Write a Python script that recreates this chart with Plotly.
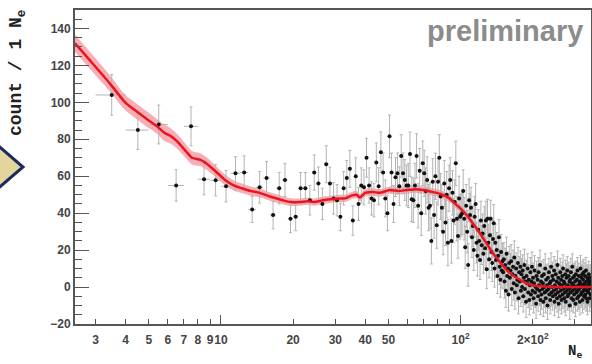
import numpy as np
import plotly.graph_objects as go

# ---------------- data ----------------
# low-N integer bins: centre, value, error
X_LOW = [3.5, 4.5, 5.5, 6.5, 7.5, 8.5, 9.5, 10.5, 11.5, 12.5, 13.5, 14.5, 15.5, 16.5, 17.5,
         18.5, 19.5, 20.5, 21.5, 22.5, 23.5, 24.5, 25.5, 26.5, 27.5, 28.5, 29.5, 30.5, 31.5,
         32.5, 33.5, 34.5, 35.5, 36.5, 37.5, 38.5, 39.5, 40.5, 41.5, 42.5, 43.5, 44.5, 45.5,
         46.5, 47.5, 48.5, 49.5, 50.5, 51.5, 52.5, 53.5, 54.5, 55.5, 56.5, 57.5, 58.5, 59.5]
Y_LOW = [104, 85, 88, 55, 87, 58.4, 57.8, 54.6, 61.6, 62, 42, 54, 59, 39, 53.5,
         58, 37, 38, 53.5, 53.5, 47, 62, 56, 45, 66.5, 56, 48, 47, 38,
         53.5, 59, 64, 36, 60, 45, 55, 54, 70, 55, 48, 47, 67.5, 54.6,
         73, 62, 48, 40, 81.6, 62, 45, 59.5, 61.6, 54.6, 71, 61.6, 58, 55]
E_LOW = [11, 10.5, 10.5, 8.5, 10.5, 8.5, 8.5, 8.5, 9, 9, 7, 8.5, 9, 7.5, 8.5,
         9, 7.5, 7.5, 8.5, 8.5, 8, 9.5, 9, 8.5, 10, 9, 8.5, 8.5, 7.5,
         9, 9.5, 10, 8, 10, 9, 9.5, 9.5, 10.5, 9.5, 9, 9, 10.5, 10,
         11, 10.5, 10, 9.5, 11.5, 10.5, 10, 10.5, 11, 10.5, 11.5, 11, 11, 11]

# dense region A: bins 60.5 ... 149.5
A_FIRST_BIN = 60.5
Y_A = [55, 72, 47.5, 47, 55, 71, 44, 63, 40, 67,
       61.6, 52, 58, 43, 44, 25, 57, 39, 60, 33.5,
       57, 70, 49, 43, 30, 56, 35, 50, 24, 53.5,
       58, 25, 51, 36, 46, 67, 37, 27.6, 48, 38,
       39, 40, 52, 37, 21.6, 44, 30, 12, 47, 39,
       43, 27, 33, 20, 38, 45, 24, 17, 31, 25,
       14.6, 36, 22.7, 29, 18, 33, 21, 36, 9.7, 37,
       24, 15, 28, 37, 19, 13, 26, 34.6, 10, 24,
       14.6, 20, 6, 17, 27, 11, 4, 19, 9, 14]
E_A_PER10 = [12, 12.5, 12.5, 12, 11.5, 11, 10.5, 10, 9.5]

# dense region B: bins 150.5 ... 349.5
B_FIRST_BIN = 150.5
Y_B = [8, 15, 3, 12, -2, 18, 6, 10, -4, 13,
       5, 9, 14, -1, 7, 11, 2, 16, -3, 6,
       10, 1, 4, 13, -6, 8, 3, 11, -2, 7,
       0, 9, -5, 5, 12, -1, 3, -8, 6, 2,
       10, -3, 4, -7, 1, 8, -4, 3, 11, -2,
       5, -6, 2, 9, -3, 0, -9, 6, -1, 4,
       -5, 8, 1, -2, 12, -7, 3, -4, 6, -1,
       2, -8, 7, 0, -3, 10, -6, 4, -2, 1,
       -10, 5, -1, 8, -4, 2, -7, 3, 11, -3,
       0, 6, -5, 4, -2, 9, -8, 1, -4, 7,
       -1, 3, -6, 12, -3, 5, -9, 2, 0, -5,
       8, -2, 4, -7, 1, 6, -4, 10, -1, 3,
       -6, 2, -3, 7, -8, 0, 5, -2, 9, -5,
       1, -4, 6, -1, 3, -10, 4, -3, 8, 0,
       -6, 2, 11, -2, 5, -7, 1, -4, 6, -1,
       3, -9, 7, 0, -3, 4, -6, 9, -2, 1,
       -5, 6, -1, 3, -8, 2, 10, -4, 0, 5,
       -3, 7, -7, 1, 4, -2, 8, -5, 2, -1,
       6, -4, 0, 9, -6, 3, -2, 5, -8, 1,
       4, -3, 7, -1, 2, -6, 0, 5, -4, 3]
E_B_PER10 = [9, 9, 8.5, 8.5, 8, 8, 8, 8, 7.5, 7.5,
             7.5, 7.5, 7.5, 7.5, 7, 7, 7, 7, 7, 7]

# fitted curve with its uncertainty band
CURVE_X = [2.46, 2.84, 3.45, 3.98, 4.3, 4.9, 5.41, 5.8, 6.13, 6.55, 7.2, 7.57, 8.17, 8.57,
           9.44, 10.4, 11.3, 12.2, 13.3, 14.5, 16, 18.1, 19.5, 21.3, 23, 24.5, 26.6, 28.5,
           31.3, 33, 35, 36.8, 38, 40, 43, 46, 50.6, 55, 59.5, 65, 70, 76.3, 82, 89.8, 95,
           100, 105.9, 111, 117.7, 123.5, 130, 137, 145, 155, 163, 171, 185, 200, 230, 277, 350]
CURVE_Y = [132, 122.7, 110, 100, 96.5, 91, 87, 83.5, 82, 79, 73, 70, 69, 67.5,
           63, 58, 55, 53.5, 52, 51, 49, 47, 46, 46, 46.5, 46, 47, 47.5,
           48, 48, 49.5, 50, 48.5, 51, 51.5, 51, 52.5, 52, 52.5, 53, 52.5, 51.5, 50.5, 48, 45,
           42.5, 39, 35.5, 31, 27, 22.5, 18, 14, 9.5, 7, 5, 2.5, 0.8, 0.2, 0, 0]
CURVE_ERR = [4.8, 4.7, 4.4, 4.2, 4.2, 4.2, 4, 4.4, 4.2, 4, 3.8, 3.6, 3.5, 3.4,
             3.1, 2.9, 2.7, 2.6, 2.5, 2.4, 2.3, 2.2, 2.1, 2, 2, 2, 2, 2,
             2, 2, 2, 2, 2, 2, 2, 2, 2, 2, 2, 2, 2, 2, 2, 2, 2,
             2, 2, 2, 2, 2, 1.8, 1.8, 1.7, 1.6, 1.5, 1.5, 1.5, 1.5, 1.5, 1.5, 1.5]

X_TICKS = [3, 4, 5, 6, 7, 8, 9, 10, 20, 30, 40, 50, 100, 200]
X_TICK_TEXT = ["3", "4", "5", "6", "7", "8", "9", "10", "20", "30", "40", "50",
               "10<sup>2</sup>", "2×10<sup>2</sup>"]
X_MINOR_TICKS = [60, 70, 80, 90, 300]

# ---------------- assemble ----------------
x_a = [A_FIRST_BIN + i for i in range(len(Y_A))]
e_a = [E_A_PER10[i // 10] for i in range(len(Y_A))]
x_b = [B_FIRST_BIN + i for i in range(len(Y_B))]
e_b = [E_B_PER10[i // 10] for i in range(len(Y_B))]

xs = X_LOW + x_a + x_b
ys = Y_LOW + Y_A + Y_B
es = E_LOW + e_a + e_b

W, H = 592, 364
ML, MR, MT, MB = 75, 1, 10, 40
PW, PH = W - ML - MR, H - MT - MB


def px(xp):
    return (xp - ML) / PW


def py(yp):
    return (H - MB - yp) / PH


fig = go.Figure()

up = [y + e for y, e in zip(CURVE_Y, CURVE_ERR)]
lo = [y - e for y, e in zip(CURVE_Y, CURVE_ERR)]
fig.add_trace(go.Scatter(x=CURVE_X, y=up, mode="lines", line=dict(width=0, color="rgba(0,0,0,0)"),
                         line_shape="spline", hoverinfo="skip", showlegend=False))
fig.add_trace(go.Scatter(x=CURVE_X, y=lo, mode="lines", line=dict(width=0, color="rgba(0,0,0,0)"),
                         line_shape="spline", fill="tonexty", fillcolor="rgba(240,110,120,0.55)",
                         hoverinfo="skip", showlegend=False))

fig.add_trace(go.Scatter(
    x=xs, y=ys, mode="markers",
    marker=dict(color="#111111", size=4),
    error_y=dict(type="data", array=es, color="#b4b4b4", thickness=1, width=1.5),
    error_x=dict(type="data", array=[0.5] * len(xs), color="#b4b4b4", thickness=1, width=0),
    showlegend=False))

fig.add_trace(go.Scatter(x=CURVE_X, y=CURVE_Y, mode="lines",
                         line=dict(color="#ea1520", width=2.5, shape="spline", smoothing=0.6),
                         showlegend=False))

# helper trace for the long decade ticks
fig.add_trace(go.Scatter(x=[10, 100], y=[None, None], xaxis="x2", mode="markers",
                         showlegend=False, hoverinfo="skip"))

tickfont = dict(family="Liberation Sans, Arial, sans-serif", size=12, color="#444444", weight="bold")
xr = [np.log10(2.46), np.log10(350)]

fig.update_layout(
    width=W, height=H,
    margin=dict(l=ML, r=MR, t=MT, b=MB, autoexpand=False),
    paper_bgcolor="white", plot_bgcolor="white",
    xaxis=dict(type="log", range=xr, tickmode="array", tickvals=X_TICKS, ticktext=X_TICK_TEXT,
               tickangle=0, automargin=False, ticklabelstandoff=4,
               ticks="inside", ticklen=5, tickwidth=1, tickcolor="#555555",
               minor=dict(tickmode="array", tickvals=X_MINOR_TICKS, ticks="inside", ticklen=5,
                          tickwidth=1, tickcolor="#555555"),
               showline=True, mirror=True, linecolor="#555555", linewidth=1.8,
               showgrid=False, zeroline=False, tickfont=tickfont),
    xaxis2=dict(type="log", range=xr, overlaying="x", side="bottom", tickmode="array",
                tickvals=[10, 100], ticks="inside", ticklen=9, tickwidth=1, tickcolor="#555555",
                showticklabels=False, showline=False, showgrid=False, zeroline=False,
                automargin=False),
    yaxis=dict(range=[-20, 150], tickmode="linear", tick0=0, dtick=20, automargin=False,
               ticks="inside", ticklen=14, tickwidth=1, tickcolor="#555555",
               minor=dict(dtick=5, ticks="inside", ticklen=7, tickcolor="#555555", tickwidth=1),
               showline=True, mirror=True, linecolor="#555555", linewidth=1.8,
               showgrid=False, zeroline=False, tickfont=tickfont),
)

fig.add_annotation(text="preliminary", xref="paper", yref="paper", x=px(585), y=py(13),
                   xanchor="right", yanchor="top", showarrow=False,
                   font=dict(family="Liberation Sans, Arial, sans-serif", size=29,
                             color="#8c8c8c", weight="bold"))
fig.add_annotation(text="count / 1 N<sub>e</sub>", xref="paper", yref="paper",
                   x=px(17), y=py(8), xanchor="center", yanchor="top", textangle=-90,
                   showarrow=False,
                   font=dict(family="Liberation Mono, Courier New, monospace", size=18,
                             color="#222222", weight="bold"))
fig.add_annotation(text="N<sub>e</sub>", xref="paper", yref="paper", x=px(575), y=py(352),
                   xanchor="center", yanchor="middle", showarrow=False,
                   font=dict(family="Liberation Mono, Courier New, monospace", size=14,
                             color="#222222", weight="bold"))

# decorative chevron at the left edge
pts = [(-6, 142), (23, 167), (-6, 192)]
path = "M " + " L ".join(f"{px(a)},{py(b)}" for a, b in pts) + " Z"
fig.add_shape(type="path", path=path, xref="paper", yref="paper",
              fillcolor="#e3d59b", line=dict(color="#1c2b5c", width=3), layer="above")

fig.write_html("out.html", config={"displayModeBar": False},
               post_script="document.body.style.margin='0';document.body.style.overflow='hidden';")
